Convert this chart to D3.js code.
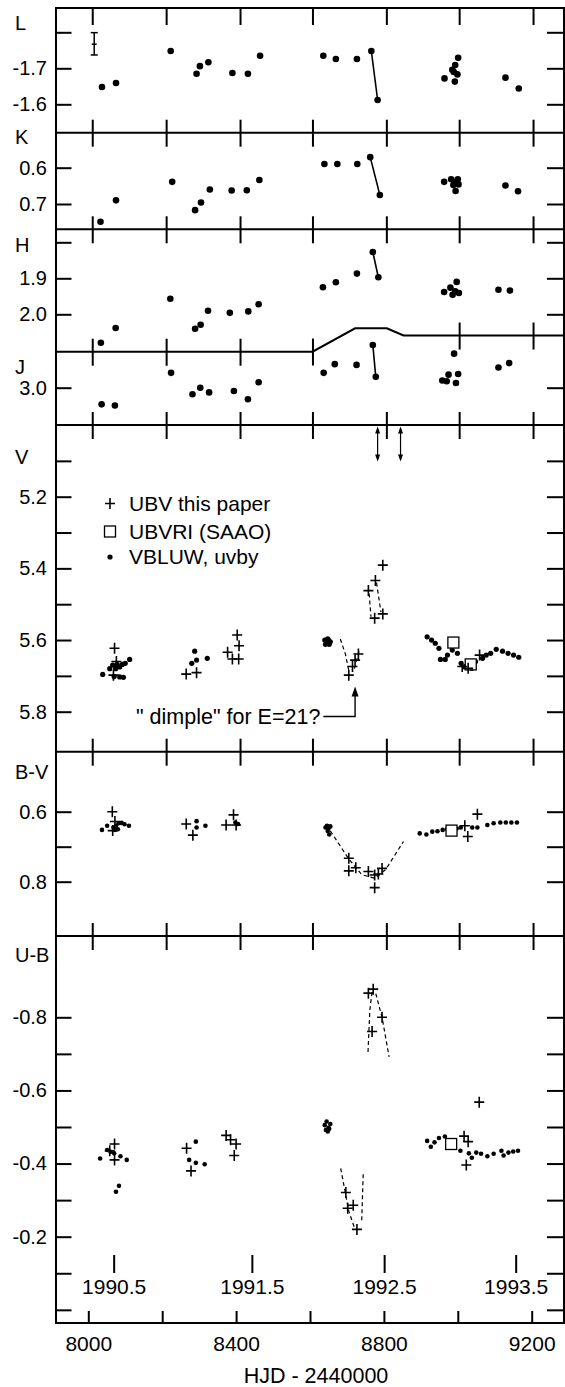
<!DOCTYPE html>
<html><head><meta charset="utf-8">
<script src="https://cdn.jsdelivr.net/npm/d3@7/dist/d3.min.js"></script>
<style>
body{margin:0;background:#fff}
svg{display:block}
text{font-family:"Liberation Sans",Arial,Helvetica,sans-serif;fill:#000}
</style>
</head><body>
<svg id="c" width="565" height="1387"></svg>
<script>
// ---------------- DATA ----------------
// x: HJD - 2440000
const L_dots = [[8037,-1.648],[8075,-1.659],[8223,-1.748],[8293,-1.685],[8302,-1.706],[8325,-1.717],[8390,-1.687],[8432,-1.685],[8465,-1.735],[8636,-1.735],[8670,-1.726],[8727,-1.726],[8766,-1.748],[8783,-1.612],[8964,-1.672],[8985,-1.696],[8993,-1.709],[9001,-1.729],[8999,-1.683],[8992,-1.663],[8989,-1.690],[9129,-1.674],[9165,-1.644]];
const L_link = [[8766,-1.748],[8783,-1.612]];
const L_errorBar = [8016,-1.799,-1.767,-1.737];
const K_dots = [[8033,0.749],[8075,0.690],[8227,0.639],[8289,0.717],[8305,0.696],[8329,0.660],[8388,0.663],[8429,0.662],[8463,0.634],[8639,0.590],[8674,0.590],[8728,0.590],[8763,0.571],[8789,0.675],[8963,0.639],[8982,0.632],[8988,0.648],[8994,0.664],[9000,0.632],[9002,0.646],[8996,0.639],[9129,0.649],[9163,0.665]];
const K_link = [[8763,0.571],[8789,0.675]];
const H_dots = [[8034,2.079],[8074,2.038],[8222,1.957],[8289,2.040],[8304,2.029],[8324,1.990],[8383,1.996],[8433,1.992],[8461,1.972],[8635,1.925],[8670,1.911],[8727,1.887],[8770,1.827],[8785,1.897],[8963,1.938],[8980,1.926],[8986,1.946],[8997,1.910],[8993,1.936],[9003,1.941],[9110,1.932],[9141,1.934]];
const H_link = [[8770,1.827],[8785,1.897]];
// boundary between H and J panels, in H-panel units
const HJ_boundary = [[7913,2.104],[8607,2.104],[8722,2.039],[8808,2.039],[8853,2.059],[9288,2.059]];
const J_dots = [[8036,3.046],[8072,3.049],[8224,2.959],[8282,3.018],[8303,3.000],[8327,3.013],[8394,3.009],[8432,3.032],[8461,2.985],[8637,2.959],[8667,2.935],[8726,2.937],[8770,2.882],[8778,2.970],[8958,2.980],[8970,2.982],[8975,2.964],[8990,2.906],[8995,2.987],[9001,2.962],[9110,2.944],[9139,2.932]];
const J_link = [[8770,2.882],[8778,2.970]];

const V_plus = [[8071,5.623],[8076,5.660],[8068,5.698],[8265,5.695],[8293,5.691],[8377,5.634],[8390,5.653],[8407,5.653],[8403,5.586],[8408,5.616],[8705,5.698],[8715,5.674],[8722,5.656],[8731,5.639],[8758,5.462],[8777,5.434],[8797,5.391],[8775,5.539],[8797,5.527],[9012,5.674],[9028,5.679],[9059,5.642]];
const V_square = [[8988,5.607],[9035,5.668]];
const V_dots = [[8039,5.696],[8058,5.680],[8066,5.670],[8078,5.668],[8085,5.675],[8092,5.668],[8070,5.702],[8085,5.703],[8095,5.704],[8112,5.654],[8100,5.665],[8074,5.680],
 [8288,5.631],[8280,5.665],[8293,5.656],[8322,5.651],
 [8640,5.600],[8645,5.607],[8650,5.600],[8655,5.605],[8642,5.612],[8652,5.612],[8648,5.597],
 [8917,5.591],[8929,5.600],[8939,5.609],[8949,5.623],[8953,5.654],[8966,5.654],[8972,5.642],[8985,5.628],[8999,5.637],[9009,5.665],[9019,5.674],[9038,5.679],[9048,5.660],[9067,5.651],[9077,5.642],[9089,5.637],[9104,5.626],[9121,5.631],[9136,5.637],[9151,5.642],[9165,5.648]];
const V_dashes = [[[8682,5.597],[8696,5.640],[8706,5.690]],[[8720,5.680],[8733,5.630]],[[8760,5.470],[8765,5.535]],[[8780,5.440],[8792,5.522]]];
const V_arrows = [8783,8845];

const BV_plus = [[8065,0.600],[8066,0.654],[8072,0.628],[8265,0.635],[8283,0.667],[8373,0.638],[8393,0.609],[8400,0.638],[8705,0.733],[8705,0.769],[8724,0.760],[8758,0.771],[8775,0.781],[8775,0.817],[8785,0.778],[8795,0.762],[9019,0.640],[9027,0.671],[9053,0.607]];
const BV_square = [[8983,0.654]];
const BV_dots = [[8037,0.652],[8051,0.640],[8068,0.645],[8075,0.640],[8082,0.633],[8090,0.632],[8098,0.636],[8110,0.640],[8072,0.652],[8080,0.650],
 [8293,0.627],[8293,0.645],[8317,0.640],[8398,0.631],[8405,0.635],
 [8642,0.645],[8646,0.640],[8650,0.648],[8652,0.665],[8655,0.642],[8648,0.655],
 [8897,0.662],[8915,0.665],[8931,0.657],[8945,0.656],[8959,0.652],[8971,0.650],[8997,0.648],[9008,0.645],[9039,0.645],[9053,0.645],[9080,0.638],[9097,0.633],[9115,0.631],[9130,0.631],[9145,0.631],[9160,0.631]];
const BV_dashes = [[[8655,0.655],[8705,0.735],[8740,0.780],[8775,0.790],[8805,0.765],[8853,0.685]]];

const UB_plus = [[8071,-0.4535],[8058,-0.435],[8071,-0.410],[8266,-0.442],[8278,-0.380],[8373,-0.477],[8385,-0.465],[8400,-0.4535],[8395,-0.422],[8758,-0.866],[8771,-0.877],[8795,-0.800],[8768,-0.761],[8697,-0.321],[8702,-0.278],[8717,-0.286],[8727,-0.220],[9017,-0.475],[9028,-0.460],[9023,-0.396],[9058,-0.568]];
const UB_square = [[8982,-0.4535]];
const UB_dots = [[8032,-0.414],[8051,-0.437],[8060,-0.432],[8070,-0.428],[8087,-0.420],[8104,-0.410],[8075,-0.323],[8083,-0.339],
 [8291,-0.460],[8273,-0.410],[8291,-0.402],[8315,-0.398],
 [8640,-0.505],[8645,-0.515],[8650,-0.498],[8655,-0.508],[8643,-0.492],[8648,-0.488],[8652,-0.495],
 [8917,-0.462],[8927,-0.446],[8937,-0.458],[8949,-0.470],[8965,-0.474],[9007,-0.435],[9030,-0.428],[9038,-0.416],[9050,-0.430],[9063,-0.427],[9080,-0.420],[9097,-0.427],[9118,-0.435],[9124,-0.422],[9137,-0.430],[9150,-0.433],[9163,-0.435]];
const UB_dashes = [[[8757,-0.705],[8762,-0.820],[8768,-0.870]],[[8778,-0.865],[8795,-0.800],[8814,-0.692]],[[8683,-0.387],[8705,-0.270],[8720,-0.225]],[[8740,-0.245],[8744,-0.372]]];

// tick values / labels
const L_ticks=[-1.8,-1.7,-1.6], L_labels=["-1.7","-1.6"];
const K_ticks=[0.6,0.7], K_labels=["0.6","0.7"];
const H_ticks=[1.8,1.9,2.0], H_labels=["1.9","2.0"];
const J_ticks=[3.0], J_labels=["3.0"];
const V_ticks=[5.1,5.2,5.3,5.4,5.5,5.6,5.7,5.8], V_labels=["5.2","5.4","5.6","5.8"];
const BV_ticks=[0.6,0.7,0.8], BV_labels=["0.6","0.8"];
const UB_ticks=[-0.8,-0.7,-0.6,-0.5,-0.4,-0.3,-0.2,-0.1,0.0], UB_labels=["-0.8","-0.6","-0.4","-0.2"];
const xTicks=[8000,8200,8400,8600,8800,9000,9200], xLabels=["8000","8400","8800","9200"];
const panelTicks=[8012,8212,8412,8608,8808,9005,9205];
const yearTicks=[8070,8444,8802,9158], yearLabels=["1990.5","1991.5","1992.5","1993.5"];
const legendItems=["UBV this paper","UBVRI (SAAO)","VBLUW, uvby"];

// ---------------- LAYOUT ----------------
const svg=d3.select("#c");
const xLeft=56, xRight=564, yTop=8, yBottom=1323;
const x=d3.scaleLinear().domain([8000,9200]).range([88.3,531.7]);
const FONT=20;

const panels=[
 {label:"L",  top:8,     bottom:132.7, dom:[-1.8,-1.6], rng:[32.3,104.3], ticks:L_ticks, labels:L_labels, ly:30},
 {label:"K",  top:132.7, bottom:229.3, dom:[0.6,0.7],   rng:[167.7,204],  ticks:K_ticks, labels:K_labels, ly:144},
 {label:"H",  top:229.3, bottom:351.7, dom:[1.9,2.0],   rng:[278.3,314.3],ticks:H_ticks, labels:H_labels, ly:252},
 {label:"J",  top:335.7, bottom:425,   dom:[2.9,3.0],   rng:[351.5,387.7],ticks:J_ticks, labels:J_labels, ly:374},
 {label:"V",  top:425,   bottom:751.7, dom:[5.2,5.8],   rng:[496.7,711.7],ticks:V_ticks, labels:V_labels, ly:464},
 {label:"B-V",top:751.7, bottom:936,   dom:[0.6,0.8],   rng:[811.7,881.7],ticks:BV_ticks,labels:BV_labels,ly:779},
 {label:"U-B",top:936,   bottom:yBottom,dom:[-0.8,-0.2],rng:[1017.3,1236.7],ticks:UB_ticks,labels:UB_labels,ly:962}
];
panels.forEach(p=>p.y=d3.scaleLinear().domain(p.dom).range(p.rng));
const [pL,pK,pH,pJ,pV,pBV,pUB]=panels;

// frame
svg.append("rect").attr("x",xLeft).attr("y",yTop).attr("width",xRight-xLeft).attr("height",yBottom-yTop)
  .attr("fill","none").attr("stroke","#000").attr("stroke-width",2);

// dividers
const dividersY=[132.7,229.3,425,751.7,936];
dividersY.forEach(yy=>svg.append("line").attr("x1",xLeft).attr("x2",xRight).attr("y1",yy).attr("y2",yy).attr("stroke","#000").attr("stroke-width",2));
svg.append("path").datum(HJ_boundary).attr("fill","none").attr("stroke","#000").attr("stroke-width",2)
  .attr("d",d3.line().x(d=>x(d[0])).y(d=>pH.y(d[1])));

// y axes
panels.forEach(p=>{
  const fmt=v=>{const s=v.toFixed(1);return p.labels.includes(s)?s:"";};
  const gl=svg.append("g").attr("transform",`translate(${xLeft},0)`)
    .call(d3.axisLeft(p.y).tickValues(p.ticks).tickSize(-15.5).tickPadding(9).tickFormat(fmt));
  gl.select(".domain").remove();
  gl.selectAll("line").attr("stroke","#000").attr("stroke-width",2);
  gl.selectAll("text").attr("font-size",FONT).attr("font-family","Liberation Sans, Arial, sans-serif").attr("fill","#000");
  const gr=svg.append("g").attr("transform",`translate(${xRight},0)`)
    .call(d3.axisRight(p.y).tickValues(p.ticks).tickSize(-17).tickFormat(""));
  gr.select(".domain").remove();
  gr.selectAll("line").attr("stroke","#000").attr("stroke-width",2);
  svg.append("text").attr("x",15).attr("y",p.ly).attr("font-size",FONT).text(p.label);
});

// panel x ticks on dividers
const tickRows=[{y:yTop,up:0,down:17}].concat(dividersY.map(yy=>({y:yy,up:13,down:14})));
tickRows.forEach(r=>{
  panelTicks.forEach(t=>{
    svg.append("line").attr("x1",x(t)).attr("x2",x(t)).attr("y1",r.y-r.up).attr("y2",r.y+r.down)
      .attr("stroke","#000").attr("stroke-width",2);
  });
});
// ticks on H/J boundary
const hjY=d3.scaleLinear().domain(HJ_boundary.map(d=>d[0])).range(HJ_boundary.map(d=>pH.y(d[1])));
panelTicks.filter(t=>t<8700||t>8900).forEach(t=>{
  const yy=hjY(t);
  svg.append("line").attr("x1",x(t)).attr("x2",x(t)).attr("y1",yy-13).attr("y2",yy+14).attr("stroke","#000").attr("stroke-width",2);
});

// bottom axis
const gx=svg.append("g").attr("transform",`translate(0,${yBottom})`)
  .call(d3.axisBottom(x).tickValues(xTicks).tickSize(-12).tickPadding(13)
  .tickFormat(v=>xLabels.includes(String(v))?String(v):""));
gx.select(".domain").remove();
gx.selectAll("line").attr("stroke","#000").attr("stroke-width",2);
gx.selectAll("text").attr("font-size",21).attr("font-family","Liberation Sans, Arial, sans-serif").attr("fill","#000");
svg.append("text").attr("x",316).attr("y",1383).attr("text-anchor","middle").attr("font-size",21.5).text("HJD - 2440000");

// year ticks
yearTicks.forEach((t,i)=>{
  svg.append("line").attr("x1",x(t)).attr("x2",x(t)).attr("y1",1255).attr("y2",1273).attr("stroke","#000").attr("stroke-width",2);
  svg.append("text").attr("x",x(t)).attr("y",1294).attr("text-anchor","middle").attr("font-size",21).text(yearLabels[i]);
});

// ---------------- MARKS ----------------
function dots(data,p,r){
  svg.append("g").selectAll("circle").data(data).join("circle")
    .attr("cx",d=>x(d[0])).attr("cy",d=>p.y(d[1])).attr("r",r).attr("fill","#000");
}
function link(data,p){
  svg.append("path").datum(data).attr("fill","none").attr("stroke","#000").attr("stroke-width",1.6)
    .attr("d",d3.line().x(d=>x(d[0])).y(d=>p.y(d[1])));
}
function dashes(list,p){
  list.forEach(seg=>svg.append("path").datum(seg).attr("fill","none").attr("stroke","#000").attr("stroke-width",1.2)
    .attr("stroke-dasharray","4,3").attr("d",d3.line().x(d=>x(d[0])).y(d=>p.y(d[1]))));
}
function pluses(data,p){
  svg.append("g").selectAll("path").data(data).join("path")
    .attr("transform",d=>`translate(${x(d[0])},${p.y(d[1])})`)
    .attr("d","M-5,0H5M0,-5.5V5.5").attr("stroke","#000").attr("stroke-width",1.6).attr("fill","none");
}
function squares(data,p){
  svg.append("g").selectAll("rect").data(data).join("rect")
    .attr("x",d=>x(d[0])-5.5).attr("y",d=>p.y(d[1])-5.5).attr("width",11).attr("height",11)
    .attr("fill","#fff").attr("stroke","#000").attr("stroke-width",1.3);
}

// IR panels
link(L_link,pL); dots(L_dots,pL,3.3);
link(K_link,pK); dots(K_dots,pK,3.3);
link(H_link,pH); dots(H_dots,pH,3.3);
link(J_link,pJ); dots(J_dots,pJ,3.3);
// error bar
{
  const ex=x(L_errorBar[0]);
  const g=svg.append("g").attr("stroke","#000").attr("stroke-width",1.5);
  g.append("line").attr("x1",ex).attr("x2",ex).attr("y1",pL.y(L_errorBar[1])).attr("y2",pL.y(L_errorBar[3]));
  [1,3].forEach(i=>g.append("line").attr("x1",ex-3.5).attr("x2",ex+3.5).attr("y1",pL.y(L_errorBar[i])).attr("y2",pL.y(L_errorBar[i])));
  g.append("line").attr("x1",ex-2.5).attr("x2",ex+2.5).attr("y1",pL.y(L_errorBar[2])).attr("y2",pL.y(L_errorBar[2]));
}

// V panel
dashes(V_dashes,pV);
dots(V_dots,pV,2.6);
squares(V_square,pV);
pluses(V_plus,pV);
// double arrows
V_arrows.forEach(t=>{
  const ax=x(t), y1=pV.y(5.004), y2=pV.y(5.102);
  svg.append("line").attr("x1",ax).attr("x2",ax).attr("y1",y1+2).attr("y2",y2-2).attr("stroke","#000").attr("stroke-width",1.2);
  svg.append("path").attr("d",`M${ax},${y1}l-2.5,7h5z`).attr("fill","#000");
  svg.append("path").attr("d",`M${ax},${y2}l-2.5,-7h5z`).attr("fill","#000");
});
// legend
{
  const lx=110, rows=[503.5,531.5,557];
  svg.append("path").attr("transform",`translate(${lx},${rows[0]})`).attr("d","M-5,0H5M0,-5.5V5.5").attr("stroke","#000").attr("stroke-width",1.6);
  svg.append("rect").attr("x",lx-5.5).attr("y",rows[1]-5.5).attr("width",11).attr("height",11).attr("fill","#fff").attr("stroke","#000").attr("stroke-width",1.3);
  svg.append("circle").attr("cx",lx).attr("cy",rows[2]).attr("r",2.6).attr("fill","#000");
  legendItems.forEach((t,i)=>svg.append("text").attr("x",129).attr("y",rows[i]+7).attr("font-size",21).text(t));
}
// dimple annotation
{
  const tipX=x(8722), tipY=pV.y(5.730), ly=716.5;
  const txt=svg.append("text").attr("x",136).attr("y",ly+7).attr("font-size",21.5).text("\" dimple\" for E=21?");
  const endX=136+txt.node().getComputedTextLength()+3;
  svg.append("path").attr("d",`M${endX},${ly}H${tipX}V${tipY+8}`).attr("fill","none").attr("stroke","#000").attr("stroke-width",1.4);
  svg.append("path").attr("d",`M${tipX},${tipY}l-3.5,10h7z`).attr("fill","#000");
}

// B-V panel
dashes(BV_dashes,pBV);
dots(BV_dots,pBV,2.3);
squares(BV_square,pBV);
pluses(BV_plus,pBV);

// U-B panel
dashes(UB_dashes,pUB);
dots(UB_dots,pUB,2.3);
squares(UB_square,pUB);
pluses(UB_plus,pUB);
</script>
</body></html>
